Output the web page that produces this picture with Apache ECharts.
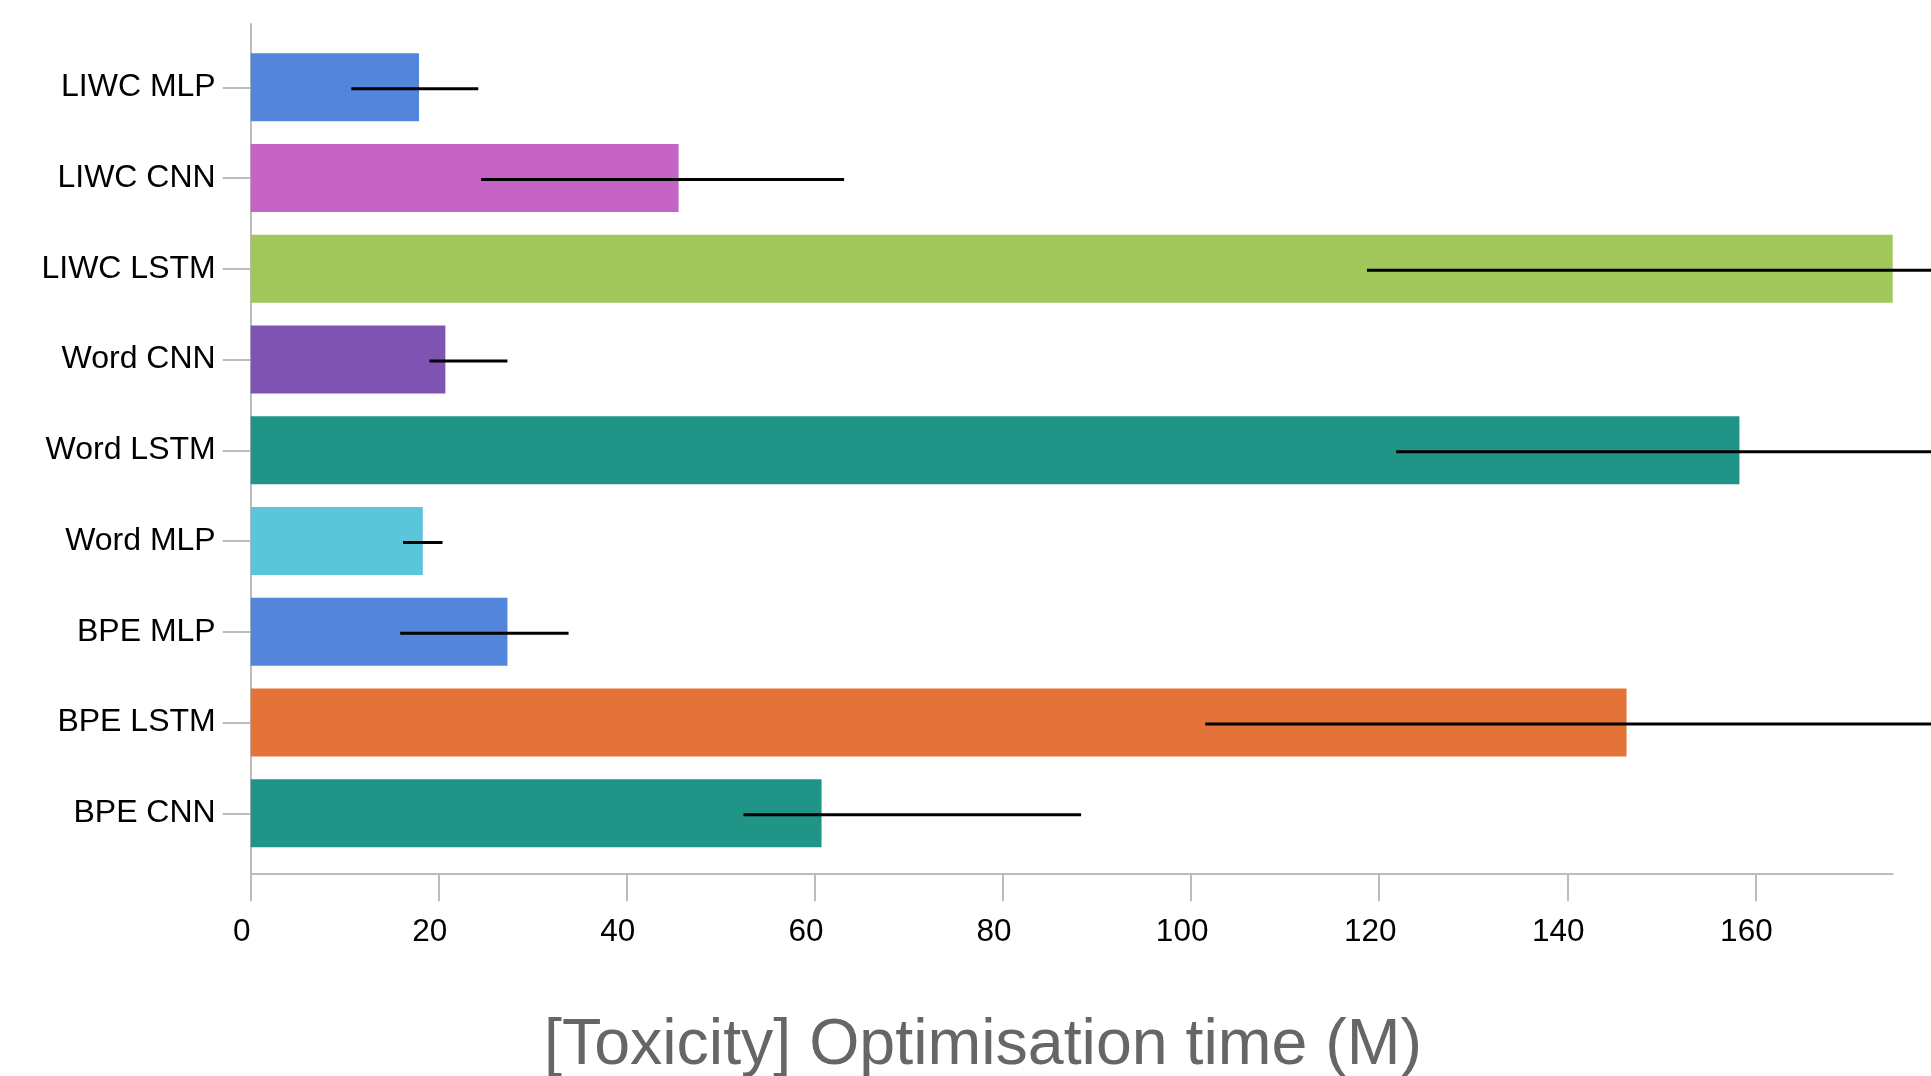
<!DOCTYPE html>
<html>
<head>
<meta charset="utf-8">
<script src="https://cdn.jsdelivr.net/npm/echarts@6/dist/echarts.min.js"></script>
<style>
html,body{margin:0;padding:0;background:#fff;}
#chart{width:1931px;height:1076px;}
</style>
</head>
<body>
<div id="chart"></div>
<script>
// ---- data ----
const categories = ['LIWC MLP','LIWC CNN','LIWC LSTM','Word CNN','Word LSTM','Word MLP','BPE MLP','BPE LSTM','BPE CNN'];
const times      = [17.9, 45.5, 174.6, 20.7, 158.3, 18.3, 27.3, 146.3, 60.7];
const errLow     = [10.7, 24.5, 118.7, 19.0, 121.8, 16.2, 15.9, 101.5, 52.4];
const errHigh    = [24.2, 63.1, 230.0, 27.3, 195.0, 20.4, 33.8, 191.0, 88.3];
const barColors  = ['#5386db','#c564c5','#a1c75c','#7f53b2','#219488','#5bc5da','#5386db','#e47339','#219488'];
const xTicks     = [0, 20, 40, 60, 80, 100, 120, 140, 160];
const axisTitle  = '[Toxicity] Optimisation time (M)';

const xMax = Math.max(...times);
const FONT = '"Liberation Sans", Arial, Helvetica, sans-serif';
const AXIS_GRAY = '#bcbcbc';

const chart = echarts.init(document.getElementById('chart'), null, {renderer: 'canvas'});

const barData = times.map((v, i) => ({value: v, itemStyle: {color: barColors[i]}}));
const errData = categories.map((c, i) => [errLow[i], i, errHigh[i]]);

const option = {
  backgroundColor: '#fff',
  animation: false,
  grid: [
    {left: 250.7, right: 38.3, top: 41.9, height: 816.8},
    {left: 250.7, right: 38.3, top: 24, bottom: 202.7}
  ],
  xAxis: [
    {gridIndex: 0, type: 'value', min: 0, max: xMax, show: false},
    {
      gridIndex: 1, type: 'value', min: 0, max: xMax,
      axisLine: {show: true, lineStyle: {color: AXIS_GRAY, width: 2}},
      axisTick: {show: true, length: 28, customValues: xTicks, lineStyle: {color: AXIS_GRAY, width: 2}},
      axisLabel: {show: true, customValues: xTicks, color: '#000', fontSize: 31.5, fontFamily: FONT, margin: 43, padding: [0, 18, 0, 0]},
      splitLine: {show: false}
    }
  ],
  yAxis: [
    {
      gridIndex: 0, type: 'category', data: categories, inverse: true,
      axisLine: {show: false},
      axisTick: {show: true, alignWithLabel: true, length: 28, lineStyle: {color: AXIS_GRAY, width: 2}},
      axisLabel: {color: '#000', fontSize: 32, fontFamily: FONT, margin: 35, padding: [4, 0, 0, 0]},
      splitLine: {show: false}
    },
    {
      gridIndex: 1, type: 'value', min: 0, max: 1,
      axisLine: {show: true, lineStyle: {color: AXIS_GRAY, width: 2}},
      axisTick: {show: false}, axisLabel: {show: false}, splitLine: {show: false}
    }
  ],
  graphic: [{
    type: 'text', x: 983, y: 1046,
    style: {text: axisTitle, font: '64.5px ' + FONT, fill: '#666', textAlign: 'center', textVerticalAlign: 'middle'}
  }],
  series: [
    {
      type: 'bar', xAxisIndex: 0, yAxisIndex: 0,
      data: barData, barWidth: 68, z: 2
    },
    {
      type: 'custom', xAxisIndex: 0, yAxisIndex: 0, z: 5, clip: false,
      data: errData,
      encode: {x: [0, 2], y: 1},
      renderItem: function (params, api) {
        const p1 = api.coord([api.value(0), api.value(1)]);
        const p2 = api.coord([api.value(2), api.value(1)]);
        return {
          type: 'line',
          shape: {x1: p1[0], y1: p1[1] + 1.5, x2: p2[0], y2: p2[1] + 1.5},
          style: {stroke: '#000', lineWidth: 3}
        };
      }
    }
  ]
};
chart.setOption(option);
</script>
</body>
</html>
